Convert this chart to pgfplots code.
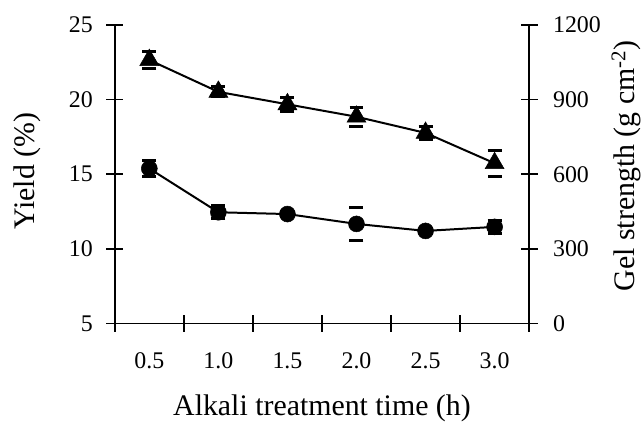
\documentclass[border=0pt]{standalone}
\usepackage{fontspec}
\setmainfont{Liberation Serif}
\usepackage{pgfplots}
\pgfplotsset{compat=1.18}

% yield (left axis) and gel strength (right axis) against alkali treatment time
\pgfplotsset{
  common/.style={
    width=415bp, height=299bp, scale only axis,
    xmin=0.5, xmax=6.5,
    tick align=center, major tick length=17bp,
    every tick/.style={black, line width=1.6bp},
    axis line style={black, line width=1.6bp},
    tick label style={font=\fontsize{24}{28}\selectfont},
    /pgf/number format/assume math mode=true,
    /pgf/number format/1000 sep={},
  },
  errcap/.style={
    error bars/.cd, y dir=both, y explicit,
    error bar style={draw opacity=0},
    error mark options={draw opacity=1, black, rotate=90, line width=3bp, mark size=7bp},
  },
}

\begin{document}
\begin{tikzpicture}
\begin{axis}[common,
  axis x line*=bottom, axis y line*=left,
  ymin=5, ymax=25, ytick={5,10,...,25},
  xtick={0.5,1.5,2.5,3.5,4.5,5.5,6.5}, x tick label as interval,
  xticklabels={0.5,1.0,1.5,2.0,2.5,3.0},
  xticklabel style={yshift=-17bp},
  yticklabel style={xshift=-10bp},
  every axis x label/.style={at={(axis description cs:0.5,-0.284)}, anchor=center,
    font=\fontsize{30}{36}\selectfont},
  every axis y label/.style={at={(axis description cs:-0.21,0.51)}, anchor=center, rotate=90,
    font=\fontsize{30}{36}\selectfont},
  xlabel={Alkali treatment time (h)},
  ylabel={Yield (\%)},
]
\addplot[black, line width=2bp, mark=*, mark size=8bp,
  mark options={solid, line width=0.5bp}, errcap]
  coordinates {
    (1,15.38) +- (0,0.51)
    (2,12.45) +- (0,0.45)
    (3,12.33) +- (0,0.15)
    (4,11.67) +- (0,1.10)
    (5,11.20) +- (0,0.15)
    (6,11.47) +- (0,0.45)
  };
\end{axis}
\begin{axis}[common,
  axis x line=none, axis y line*=right,
  ymin=0, ymax=1200, ytick={0,300,...,1200},
  yticklabel style={xshift=12bp},
  every axis y label/.style={at={(axis description cs:1.234,0.528)}, anchor=center, rotate=90,
    font=\fontsize{30}{36}\selectfont},
  ylabel={Gel strength (g cm\textsuperscript{-2})},
]
\addplot[black, line width=2bp, mark=triangle*, mark size=11bp,
  mark options={solid, line width=0.5bp}, errcap]
  coordinates {
    (1,1059) +- (0,33)
    (2,931) +- (0,20)
    (3,881) +- (0,27)
    (4,831) +- (0,38)
    (5,766) +- (0,26)
    (6,644) +- (0,52)
  };
\end{axis}
\path ([shift={(-115bp,-101bp)}]current axis.south west)
  rectangle ([shift={(114bp,25bp)}]current axis.north east);
\end{tikzpicture}
\end{document}
